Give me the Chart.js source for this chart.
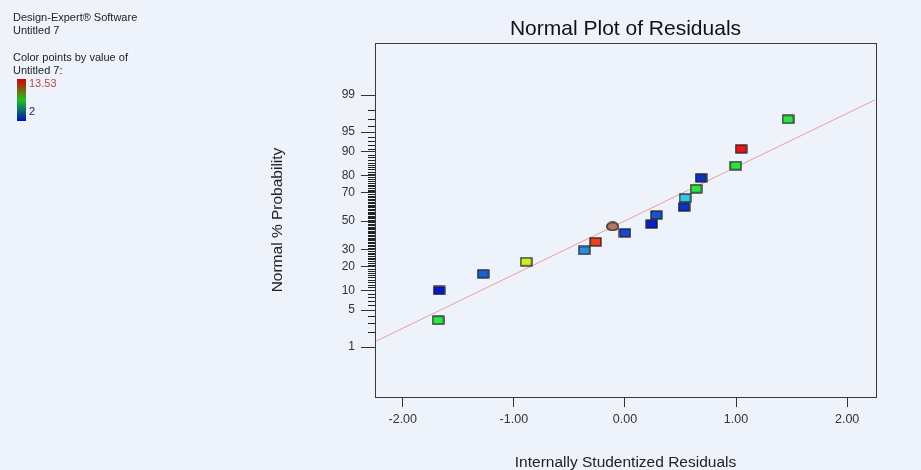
<!DOCTYPE html>
<html>
<head>
<meta charset="utf-8">
<script src="https://cdn.jsdelivr.net/npm/chart.js"></script>
<style>
  html, body { margin: 0; padding: 0; background: #eef2fa; }
  #wrap { position: relative; width: 921px; height: 470px; overflow: hidden; }
  #plot { position: absolute; left: 0; top: 0; }
  .note { position: absolute; font-family: "Liberation Sans", Arial, sans-serif; font-size: 11px; line-height: 13px; color: #222; white-space: nowrap; }
  #scale-bar { position: absolute; left: 17px; top: 79px; width: 9px; height: 42px;
    background: linear-gradient(to bottom, #d80000 0%, #20c020 50%, #0010c0 100%); }
</style>
</head>
<body>
<div id="wrap">
  <canvas id="plot" width="921" height="470"></canvas>
  <div class="note" style="left:13px; top:11px;">Design-Expert® Software</div>
  <div class="note" style="left:13px; top:24px;">Untitled 7</div>
  <div class="note" style="left:13px; top:51px;">Color points by value of</div>
  <div class="note" style="left:13px; top:64px;">Untitled 7:</div>
  <div id="scale-bar"></div>
  <div class="note" style="left:29px; top:77px; color:#c04848;">13.53</div>
  <div class="note" style="left:29px; top:105px; color:#202070;">2</div>
</div>
<script>
// residuals (x) and their normal % probability (y), sorted by rank
const residuals = [-1.682, -1.673, -1.277, -0.889, -0.367, -0.264, 0.000, -0.111, 0.241,
                   0.282, 0.532, 0.541, 0.640, 0.685, 0.997, 1.045, 1.468];
const probPct   = [3.35, 10.0, 16.5, 22.6, 29.4, 35.1, 41.4, 46.1, 47.8,
                   54.4, 60.2, 66.5, 72.5, 78.8, 84.7, 90.9, 97.0];
const pointColors = ['#2ee84a', '#0818c8', '#1a62d4', '#c8f028', '#2a90dc', '#f0401c', '#1a48c8',
                     '#b87462', '#0a1ccc', '#1c52d0', '#0c30c8', '#34c8e4', '#30e048', '#1030c0',
                     '#30e048', '#ee1414', '#30e048'];
const pointShapes = ['rect', 'rect', 'rect', 'rect', 'rect', 'rect', 'rect', 'oval', 'rect',
                     'rect', 'rect', 'rect', 'rect', 'rect', 'rect', 'rect', 'rect'];

// reference line end points
const lineX   = [-2.26, 2.25];
const linePct = [1.26, 98.74];

const xTicks = [-2, -1, 0, 1, 2];
const yTickPct = [1, 5, 10, 20, 30, 50, 70, 80, 90, 95, 99];

// inverse normal CDF (Acklam)
function probit(p) {
  const a = [-39.69683028665376, 220.9460984245205, -275.9285104469687, 138.3577518672690, -30.66479806614716, 2.506628277459239];
  const b = [-54.47609879822406, 161.5858368580409, -155.6989798598866, 66.80131188771972, -13.28068155288572];
  const c = [-0.007784894002430293, -0.3223964580411365, -2.400758277161838, -2.549732539343734, 4.374664141464968, 2.938163982698783];
  const d = [0.007784695709041462, 0.3224671290700398, 2.445134137142996, 3.754408661907416];
  const pl = 0.02425;
  let q, r;
  if (p < pl) {
    q = Math.sqrt(-2 * Math.log(p));
    return (((((c[0]*q+c[1])*q+c[2])*q+c[3])*q+c[4])*q+c[5]) / ((((d[0]*q+d[1])*q+d[2])*q+d[3])*q+1);
  }
  if (p > 1 - pl) {
    q = Math.sqrt(-2 * Math.log(1 - p));
    return -(((((c[0]*q+c[1])*q+c[2])*q+c[3])*q+c[4])*q+c[5]) / ((((d[0]*q+d[1])*q+d[2])*q+d[3])*q+1);
  }
  q = p - 0.5; r = q * q;
  return (((((a[0]*r+a[1])*r+a[2])*r+a[3])*r+a[4])*r+a[5])*q / (((((b[0]*r+b[1])*r+b[2])*r+b[3])*r+b[4])*r+1);
}

function makeMarker(fill, shape) {
  const c = document.createElement('canvas');
  c.width = 13; c.height = 10;
  const g = c.getContext('2d');
  g.fillStyle = fill;
  g.strokeStyle = '#1a1a1a';
  g.lineWidth = 1.2;
  if (shape === 'oval') {
    g.beginPath();
    g.ellipse(6.5, 5, 5.8, 4.2, 0, 0, Math.PI * 2);
    g.fill(); g.stroke();
  } else {
    g.fillRect(1, 1, 11, 8);
    g.strokeRect(1, 1, 11, 8);
  }
  return c;
}

const points = residuals.map((x, i) => ({ x: x, y: probit(probPct[i] / 100) }));
const linePts = lineX.map((x, i) => ({ x: x, y: probit(linePct[i] / 100) }));
const markers = pointColors.map((c, i) => makeMarker(c, pointShapes[i]));

const FONT = "'Liberation Sans', Arial, sans-serif";

// frame around the plot and the short minor ticks on the probability axis
const framePlugin = {
  id: 'frame',
  afterDraw(chart) {
    const { ctx, chartArea: a } = chart;
    const ys = chart.scales.y;
    ctx.save();
    ctx.strokeStyle = '#3a3a3a';
    ctx.lineWidth = 1;
    ctx.strokeRect(Math.round(a.left) + 0.5, Math.round(a.top) + 0.5,
                   Math.round(a.right - a.left), Math.round(a.bottom - a.top));
    ctx.strokeStyle = '#222';
    ctx.beginPath();
    for (let p = 1; p <= 99; p++) {
      if (yTickPct.includes(p)) continue;
      const y = Math.round(ys.getPixelForValue(probit(p / 100))) + 0.5;
      ctx.moveTo(a.left - 7, y);
      ctx.lineTo(a.left, y);
    }
    ctx.stroke();
    ctx.restore();
  }
};

new Chart(document.getElementById('plot'), {
  type: 'scatter',
  data: {
    datasets: [
      {
        data: points,
        pointStyle: markers,
        pointRadius: 6,
        order: 1
      },
      {
        data: linePts,
        showLine: true,
        borderColor: '#e8a0a0',
        borderWidth: 1,
        pointRadius: 0,
        order: 2
      }
    ]
  },
  options: {
    responsive: false,
    animation: false,
    devicePixelRatio: 1,
    layout: { padding: { left: 0, right: 45, top: 0, bottom: 0 } },
    plugins: {
      legend: { display: false },
      tooltip: { enabled: false },
      title: {
        display: true,
        text: 'Normal Plot of Residuals',
        fullSize: false,
        color: '#111',
        font: { family: FONT, size: 21, weight: 'normal', lineHeight: 1.2 },
        padding: { top: 17, bottom: 0.8 }
      }
    },
    scales: {
      x: {
        type: 'linear',
        min: -2.25,
        max: 2.26,
        afterBuildTicks: s => { s.ticks = xTicks.map(v => ({ value: v })); },
        afterFit: s => { s.height = 73; },
        ticks: {
          callback: v => v.toFixed(2),
          color: '#333',
          font: { family: FONT, size: 12.5, lineHeight: 1.2 },
          padding: 5.5,
          maxRotation: 0,
          autoSkip: false
        },
        grid: { drawOnChartArea: false, tickLength: 10, color: '#333' },
        border: { display: false },
        title: {
          display: true,
          text: 'Internally Studentized Residuals',
          color: '#222',
          font: { family: FONT, size: 15.5, lineHeight: 1 },
          padding: { top: 0, bottom: 0 }
        }
      },
      y: {
        type: 'linear',
        min: -3.25,
        max: 3.29,
        afterBuildTicks: s => { s.ticks = yTickPct.map(p => ({ value: probit(p / 100) })); },
        afterFit: s => { s.width = 375; },
        ticks: {
          callback: (v, i) => String(yTickPct[i]),
          color: '#333',
          font: { family: FONT, size: 12 },
          padding: 6,
          autoSkip: false
        },
        grid: { drawOnChartArea: false, tickLength: 14, color: '#333' },
        border: { display: false },
        title: {
          display: true,
          text: 'Normal % Probability',
          color: '#222',
          font: { family: FONT, size: 15.5, lineHeight: 1 },
          padding: { top: 270, bottom: 0 }
        }
      }
    }
  },
  plugins: [framePlugin]
});
</script>
</body>
</html>
